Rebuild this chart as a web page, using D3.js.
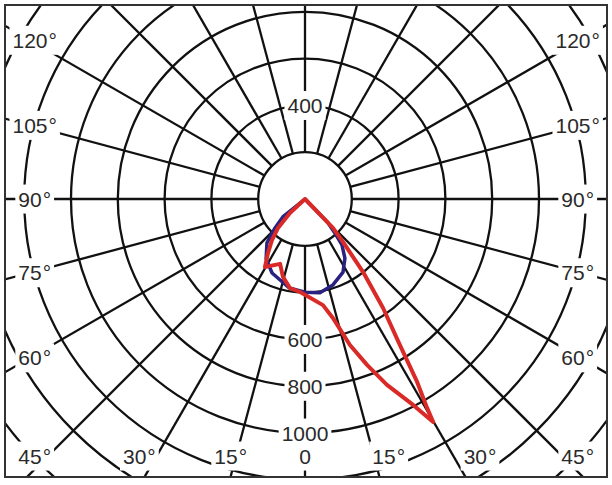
<!DOCTYPE html>
<html><head><meta charset="utf-8">
<script src="https://cdn.jsdelivr.net/npm/d3@7"></script>
<style>html,body{margin:0;padding:0;background:#fff;}svg{display:block;}</style>
</head><body>
<svg id="chart" width="612" height="485"></svg>
<script>
// ---- data ----
const ringValues = [200, 400, 600, 800, 1000, 1200, 1400, 1600];
const ringLabelsUp = [400];
const ringLabelsDown = [600, 800, 1000];
const sideLabelAngles = [120, 105, 90, 75, 60];
const bottomLabelAngles = [45, 30, 15, 0];
const spokeStep = 15;

// angle measured from nadir (0 = straight down), positive to the right; values in cd
const blueAngles = [-55, -51, -46, -41, -33, -24, -10, 0, 9, 18, 27.5, 34, 38.8, 41, 44, 46];
const blueValues = [0, 122, 178, 248, 305, 346, 386, 398, 406, 386, 352, 305, 252, 200, 140, 0];

const redAngles = [-50, -47, -43, -38.8, -34.4, -30.5, -21, -15.8, -9.6, -3, 9.6, 13.2, 17.1, 20.5, 23.8, 27.7, 29.9, 30.3, 31.5, 33, 35.6, 38.5, 41.5, 44, 46];
const redValues = [0, 88, 169, 225, 280, 337, 297, 346, 386, 398, 460, 522, 653, 757, 868, 994, 1099, 1034, 917, 745, 573, 399, 245, 172, 0];

// ---- layout ----
const W = 612, H = 485;
const cx = 305, cy = 199;
const frame = {x0: 5, y0: 5, x1: 607, y1: 477};
const FONT = "'Liberation Sans', Arial, sans-serif";
const FS = 21;

const svg = d3.select("#chart");
const r = d3.scaleLinear().domain([0, 1000]).range([0, 234]);
const rad = a => a * Math.PI / 180;
const pt = (a, rr) => [cx + rr * Math.sin(rad(a)), cy + rr * Math.cos(rad(a))];

svg.append("rect").attr("width", W).attr("height", H).attr("fill", "#fff");

svg.append("defs").append("clipPath").attr("id", "clip")
  .append("rect").attr("x", frame.x0).attr("y", frame.y0)
  .attr("width", frame.x1 - frame.x0).attr("height", frame.y1 - frame.y0);

const g = svg.append("g").attr("clip-path", "url(#clip)");

// spokes
const spokes = d3.range(0, 360, spokeStep);
g.append("g").selectAll("line").data(spokes).join("line")
  .attr("x1", a => pt(a, r(ringValues[0]))[0])
  .attr("y1", a => pt(a, r(ringValues[0]))[1])
  .attr("x2", a => pt(a, 700)[0])
  .attr("y2", a => pt(a, 700)[1])
  .attr("stroke", "#111").attr("stroke-width", 2.3);

// rings
g.append("g").selectAll("circle").data(ringValues).join("circle")
  .attr("cx", cx).attr("cy", cy).attr("r", d => r(d))
  .attr("fill", "none").attr("stroke", "#111").attr("stroke-width", 2.3);

// labels
const labelLayer = g.append("g");
function addLabel(x, y, num, withDeg) {
  const lg = labelLayer.append("g");
  const bg = lg.append("rect").attr("fill", "#fff");
  const t = lg.append("text").attr("x", x).attr("y", y + FS * 0.36)
    .attr("text-anchor", "middle").attr("font-family", FONT).attr("font-size", FS)
    .attr("fill", "#2a2a2a").text(num);
  if (withDeg) {
    const w = t.node().getComputedTextLength();
    lg.append("text").attr("x", x + w / 2 + 1).attr("y", y + FS * 0.36)
      .attr("font-family", FONT).attr("font-size", FS).attr("fill", "#2a2a2a").text("°");
  }
  const bb = lg.node().getBBox();
  bg.attr("x", bb.x - 3).attr("y", bb.y - 3).attr("width", bb.width + 6).attr("height", bb.height + 6);
}

ringLabelsUp.forEach(v => addLabel(cx, cy - r(v), String(v), false));
ringLabelsDown.forEach(v => addLabel(cx, cy + r(v), String(v), false));

const leftX = cx - 275, rightX = cx + 268;
sideLabelAngles.forEach(a => {
  const y = cy + 275 / Math.tan(rad(a));
  addLabel(leftX, y, String(a), true);
  addLabel(rightX, y, String(a), true);
});
const bottomY = 456;
bottomLabelAngles.forEach(a => {
  if (a === 0) { addLabel(cx, bottomY, "0", false); return; }
  const dx = 295 * Math.tan(rad(a));
  addLabel(Math.max(leftX, cx - dx), bottomY, String(a), true);
  addLabel(Math.min(rightX, cx + dx), bottomY, String(a), true);
});

// curves
const radial = d3.lineRadial()
  .angle(d => Math.PI - rad(d.a))
  .radius(d => r(d.v))
  .curve(d3.curveLinearClosed);

const blue = blueAngles.map((a, i) => ({a, v: blueValues[i]}));
const red = redAngles.map((a, i) => ({a, v: redValues[i]}));

g.append("path").attr("transform", `translate(${cx},${cy})`)
  .attr("d", radial(blue)).attr("fill", "none")
  .attr("stroke", "#2a2280").attr("stroke-width", 3.5).attr("stroke-linejoin", "round");
g.append("path").attr("transform", `translate(${cx},${cy})`)
  .attr("d", radial(red)).attr("fill", "none")
  .attr("stroke", "#d92a27").attr("stroke-width", 4).attr("stroke-linejoin", "round");

// frame
svg.append("rect").attr("x", frame.x0).attr("y", frame.y0)
  .attr("width", frame.x1 - frame.x0).attr("height", frame.y1 - frame.y0)
  .attr("fill", "none").attr("stroke", "#333").attr("stroke-width", 2);
</script>
</body></html>
